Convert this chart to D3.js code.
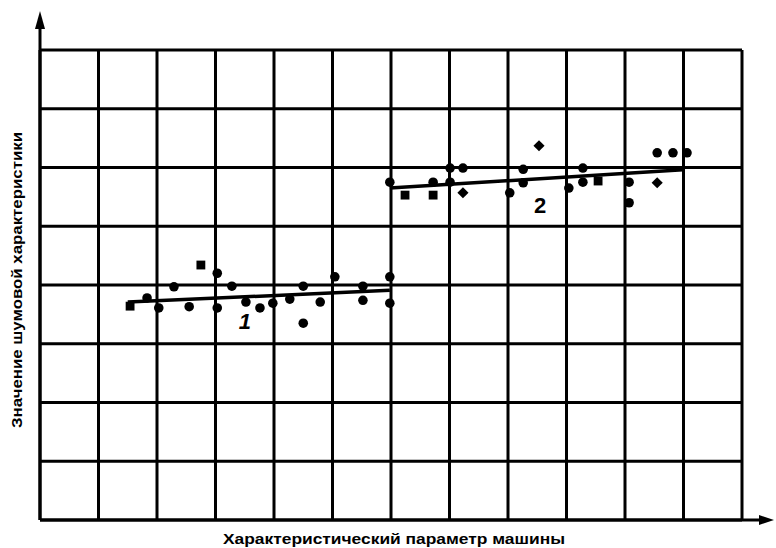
<!DOCTYPE html>
<html><head><meta charset="utf-8">
<script src="https://cdn.jsdelivr.net/npm/d3@7"></script>
<style>html,body{margin:0;padding:0;background:#fff;}svg{display:block;}</style>
</head><body>
<svg id="c" width="776" height="548"></svg>
<script>
// Grid units: x 0..12 columns, y 0..8 rows
const xTicks = d3.range(0, 13);
const yTicks = d3.range(0, 9);
// Group 1 measured points
const g1x = [1.54,1.83,2.03,2.29,2.55,2.75,3.03,3.03,3.28,3.52,3.76,3.98,4.27,4.50,4.50,4.79,5.04,5.52,5.52,5.98,5.98];
const g1y = [3.64,3.78,3.61,3.97,3.63,4.34,4.20,3.61,3.98,3.71,3.61,3.69,3.76,3.98,3.35,3.71,4.14,3.98,3.74,4.14,3.69];
const g1s = ["s","c","c","c","c","s","c","c","c","c","c","c","c","c","c","c","c","c","c","c","c"];
// Group 2 measured points
const g2x = [5.98,6.24,6.72,6.72,7.01,7.01,7.23,7.23,8.03,8.26,8.26,8.53,9.04,9.28,9.28,9.54,10.07,10.07,10.55,10.55,10.82,11.06];
const g2y = [5.75,5.53,5.75,5.53,5.99,5.75,5.99,5.57,5.57,5.97,5.74,6.37,5.65,5.99,5.75,5.77,5.75,5.40,6.25,5.74,6.25,6.25];
const g2s = ["c","s","c","s","c","c","c","d","c","c","c","d","c","c","c","s","c","c","c","d","c","c"];
// Trend lines
const line1x = [1.50, 5.98], line1y = [3.71, 3.91];
const line2x = [5.98, 10.99], line2y = [5.65, 5.96];
const labels = [{t:"1", x:3.50, y:3.25, it:true}, {t:"2", x:8.55, y:5.22, it:false}];
const xTitle = "Характеристический параметр машины";
const yTitle = "Значение шумовой характеристики";

const svg = d3.select("#c");
const x = d3.scaleLinear().domain([0,12]).range([40,742]);
const y = d3.scaleLinear().domain([0,8]).range([520,50]);

const grid = svg.append("g").attr("stroke","#000").attr("stroke-width",3);
grid.selectAll("line.v").data(xTicks).join("line")
  .attr("x1",d=>x(d)).attr("x2",d=>x(d)).attr("y1",y(0)).attr("y2",y(8));
grid.selectAll("line.h").data(yTicks).join("line").attr("class","h")
  .attr("x1",x(0)).attr("x2",x(12)).attr("y1",d=>y(d)).attr("y2",d=>y(d));

// axes with arrows
svg.append("line").attr("x1",x(0)).attr("x2",x(0)).attr("y1",y(0)).attr("y2",22).attr("stroke","#000").attr("stroke-width",3);
svg.append("path").attr("d",`M${x(0)},11 L${x(0)-5},29 L${x(0)+5},29 Z`).attr("fill","#000");
svg.append("line").attr("x1",x(0)).attr("x2",764).attr("y1",y(0)).attr("y2",y(0)).attr("stroke","#000").attr("stroke-width",3);
svg.append("path").attr("d",`M774,${y(0)} L759,${y(0)-5} L759,${y(0)+5} Z`).attr("fill","#000");

// trend lines
const lg = d3.line().x(d=>x(d[0])).y(d=>y(d[1]));
svg.append("path").attr("d",lg(d3.zip(line1x,line1y))).attr("stroke","#000").attr("stroke-width",3.5).attr("fill","none");
svg.append("path").attr("d",lg(d3.zip(line2x,line2y))).attr("stroke","#000").attr("stroke-width",3.5).attr("fill","none");

function drawPts(xs, ys, ss){
  const data = d3.zip(xs, ys, ss);
  svg.append("g").selectAll("path").data(data).join("path")
    .attr("transform", d=>`translate(${x(d[0])},${y(d[1])})` + (d[2]==="d" ? " rotate(45)" : ""))
    .attr("d", d=>d3.symbol().type(d[2]==="c"?d3.symbolCircle:d3.symbolSquare).size(d[2]==="s"?78:(d[2]==="d"?62:72))())
    .attr("fill","#000");
}
drawPts(g1x,g1y,g1s);
drawPts(g2x,g2y,g2s);

svg.selectAll("text.lab").data(labels).join("text").attr("class","lab")
  .attr("x",d=>x(d.x)).attr("y",d=>y(d.y)).attr("text-anchor","middle")
  .attr("font-family","Liberation Sans, Arial, sans-serif").attr("font-weight","bold")
  .attr("font-size",22).attr("font-style",d=>d.it?"italic":"normal").text(d=>d.t);

svg.append("text").attr("x",394).attr("y",544).attr("text-anchor","middle")
  .attr("font-family","Liberation Sans Narrow, Liberation Sans, Arial, sans-serif").attr("font-weight","bold")
  .attr("font-size",14).attr("textLength",342).attr("lengthAdjust","spacingAndGlyphs").text(xTitle);
svg.append("text").attr("transform","translate(22,280) rotate(-90)").attr("text-anchor","middle")
  .attr("font-family","Liberation Sans Narrow, Liberation Sans, Arial, sans-serif").attr("font-weight","bold")
  .attr("font-size",14).attr("textLength",296).attr("lengthAdjust","spacingAndGlyphs").text(yTitle);
</script>
</body></html>
